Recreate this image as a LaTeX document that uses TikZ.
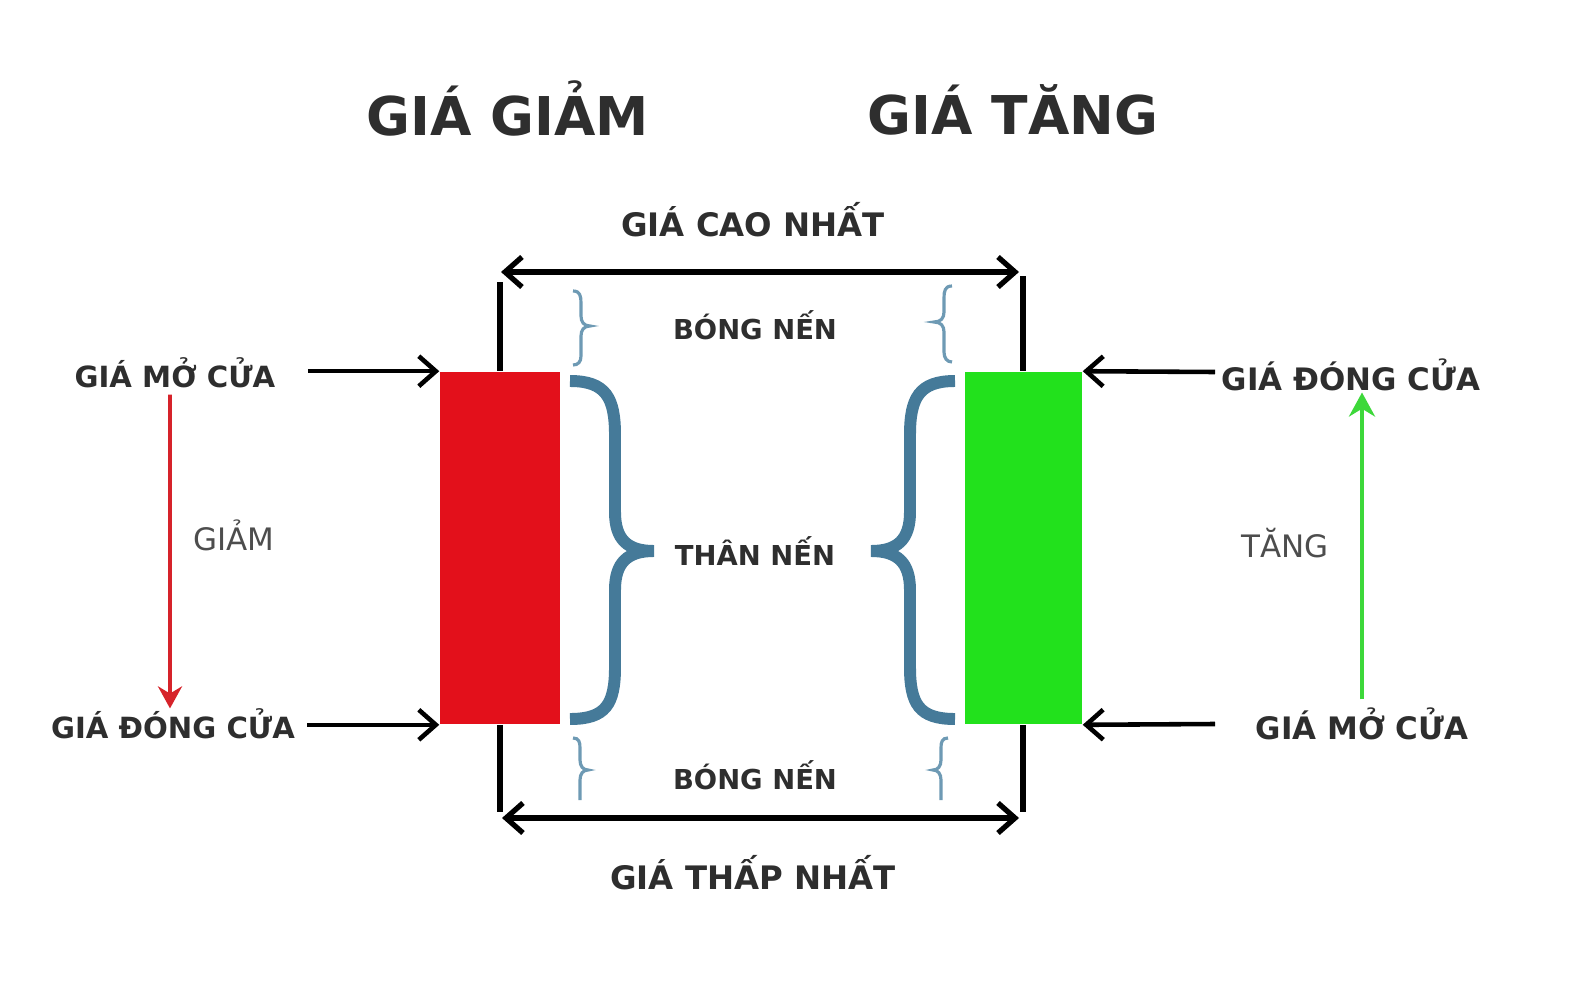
\documentclass[tikz,border=0pt]{standalone}
\usepackage{fontspec}
\setmainfont{DejaVu Sans}
\usetikzlibrary{positioning, arrows.meta, calc}
\definecolor{ink}{HTML}{2E2E2E}
\definecolor{down}{HTML}{E3101B}
\definecolor{up}{HTML}{22E11C}
\definecolor{bracecol}{HTML}{457A99}
\definecolor{shadecol}{HTML}{6E9AB4}
\definecolor{downarr}{HTML}{D6232A}
\definecolor{uparr}{HTML}{3DD83A}

\begin{document}
\begin{tikzpicture}[x=0.01cm, y=-0.01cm,
  title/.style={font=\bfseries\fontsize{15.2}{16}\selectfont, text=ink},
  lbl/.style={font=\bfseries\fontsize{8.3}{10}\selectfont, text=ink},
  rlbl/.style={font=\bfseries\fontsize{8.8}{10}\selectfont, text=ink},
  mid/.style={font=\bfseries\fontsize{7.8}{10}\selectfont, text=ink},
  extreme/.style={font=\bfseries\fontsize{9.2}{10}\selectfont, text=ink},
  trend/.style={font=\fontsize{8.8}{10}\selectfont, text=ink!85},
  body/.style={minimum width=1.2cm, minimum height=3.52cm, inner sep=0pt, draw=none},
  arr/.style={-{Straight Barb[length=1.7mm, width=3mm]}, line width=1.3pt},
  dbl/.style={{Straight Barb[length=1.7mm, width=3mm]}-{Straight Barb[length=1.7mm, width=3mm]}, line width=1.5pt},
  wick/.style={line width=1.5pt},
  bigbrace/.style={draw=bracecol, line width=3.4pt, line join=miter},
  smallbrace/.style={draw=shadecol, line width=0.9pt}
]
  \fill[white] (0,0) rectangle (1569,1000);
  \useasboundingbox (0,0) rectangle (1569,1000);

  % titles
  \node[title] (tdown) at (508,108) {GIÁ GIẢM};
  \node[title] (tup) at (1013,110) {GIÁ TĂNG};
  \node[extreme] (high) at (753,220) {GIÁ CAO NHẤT};
  \node[extreme] (low) at (753,873) {GIÁ THẤP NHẤT};

  % candle bodies
  \node[body, fill=down] (red) at (500,548) {};
  \node[body, fill=up, minimum width=1.17cm] (green) at (1023.5,548) {};

  % wicks
  \coordinate (rhi) at (500,282);
  \coordinate (rlo) at (500,812);
  \coordinate (ghi) at (1023,276);
  \coordinate (glo) at (1023,812);
  \draw[wick] (rhi) -- (red.north);
  \draw[wick] (red.south) -- (rlo);
  \draw[wick] (ghi) -- (green.north -| ghi);
  \draw[wick] (green.south -| glo) -- (glo);

  % high / low arrows
  \coordinate (hl) at (501,272);
  \coordinate (hr) at (1019,272);
  \coordinate (ll) at (502,818);
  \coordinate (lr) at (1019,818);
  \draw[dbl] (hl) -- (hr);
  \draw[dbl] (ll) -- (lr);

  % middle labels
  \node[mid] (sh1) at (755,325) {BÓNG NẾN};
  \node[mid] (bd) at (755,551) {THÂN NẾN};
  \node[mid] (sh2) at (755,775) {BÓNG NẾN};

  % body braces
  \draw[bigbrace] (570,381) .. controls (606,381) and (615,398) .. (615,435) -- (615,512)
    .. controls (615,540) and (628,551) .. (654,551)
    .. controls (628,551) and (615,562) .. (615,590) -- (615,667)
    .. controls (615,704) and (606,719) .. (570,719);
  \draw[bigbrace] (955,381) .. controls (919,381) and (910,398) .. (910,435) -- (910,512)
    .. controls (910,540) and (897,551) .. (871,551)
    .. controls (897,551) and (910,562) .. (910,590) -- (910,667)
    .. controls (910,704) and (919,719) .. (955,719);

  % shadow braces
  \draw[smallbrace] (573,291) .. controls (580,291) and (581,296) .. (581,303) -- (581,316)
    .. controls (581,322) and (584,326) .. (590,326)
    .. controls (584,326) and (581,330) .. (581,336) -- (581,356)
    .. controls (581,362) and (578,365) .. (573,365);
  \draw[smallbrace] (952,286) .. controls (945,286) and (944,291) .. (944,298) -- (944,312)
    .. controls (944,318) and (941,322) .. (934,322)
    .. controls (941,322) and (944,326) .. (944,332) -- (944,352)
    .. controls (944,358) and (947,362) .. (952,362);
  \draw[smallbrace] (573,738) .. controls (579,738) and (580,742) .. (580,748) -- (580,760)
    .. controls (580,766) and (583,770) .. (588,770)
    .. controls (583,770) and (580,774) .. (580,780) -- (580,800);
  \draw[smallbrace] (948,738) .. controls (942,738) and (941,742) .. (941,748) -- (941,760)
    .. controls (941,766) and (938,770) .. (933,770)
    .. controls (938,770) and (941,774) .. (941,780) -- (941,800);

  % left side
  \node[lbl] (mo) at (175,373) {GIÁ MỞ CỬA};
  \node[lbl] (dong) at (173,724) {GIÁ ĐÓNG CỬA};
  \draw[arr] ([xshift=0.2cm]mo.east |- red.north west) -- (red.north west);
  \draw[arr] (dong.east |- red.south west) -- (red.south west);
  \draw[downarr, line width=1pt, -{Stealth[length=2.2mm, width=2.4mm]}]
    ([xshift=-0.05cm, yshift=0.06cm]mo.south) -- ([xshift=-0.03cm, yshift=-0.12cm]dong.north);
  \node[trend] (fall) at (234,535) {GIẢM};

  % right side
  \node[rlbl] (gdong) at (1351,375) {GIÁ ĐÓNG CỬA};
  \node[rlbl] (gmo) at (1362,724) {GIÁ MỞ CỬA};
  \coordinate (a1) at (1215,372);
  \coordinate (a2) at (1215,724);
  \draw[arr] (a1) -- (green.north east);
  \draw[arr] (a2) -- (green.south east);
  \draw[uparr, line width=1.3pt, -{Stealth[length=2.4mm, width=2.6mm]}]
    ([yshift=-0.04cm]gmo.north) -- ([yshift=0.11cm]gmo.north |- gdong.south);
  \node[trend] (rise) at (1285,543) {TĂNG};
\end{tikzpicture}
\end{document}
